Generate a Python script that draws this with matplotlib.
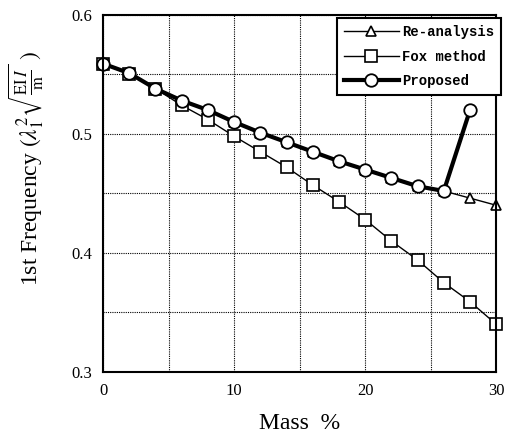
import matplotlib
matplotlib.use("Agg")
import matplotlib.pyplot as plt

plt.rcParams['mathtext.fontset'] = 'stix'

mass_re = [0, 2, 4, 6, 8, 10, 12, 14, 16, 18, 20, 22, 24, 26, 28, 30]
re_analysis = [0.559, 0.551, 0.538, 0.528, 0.520, 0.510, 0.501, 0.493, 0.485,
               0.477, 0.470, 0.463, 0.456, 0.452, 0.446, 0.440]
mass_fox = [0, 2, 4, 6, 8, 10, 12, 14, 16, 18, 20, 22, 24, 26, 28, 30]
fox = [0.559, 0.550, 0.538, 0.524, 0.512, 0.498, 0.485, 0.472, 0.457,
       0.443, 0.428, 0.410, 0.394, 0.375, 0.359, 0.340]
mass_prop = [0, 2, 4, 6, 8, 10, 12, 14, 16, 18, 20, 22, 24, 26, 28]
proposed = [0.559, 0.551, 0.538, 0.528, 0.520, 0.510, 0.501, 0.493, 0.485,
            0.477, 0.470, 0.463, 0.456, 0.452, 0.520]

x_ticks = [0, 10, 20, 30]
x_minor = [5, 15, 25]
y_ticks = [0.3, 0.4, 0.5, 0.6]
y_minor = [0.35, 0.45, 0.55]

fig = plt.figure(figsize=(5.10, 4.37), dpi=100)
ax = fig.add_axes([0.202, 0.149, 0.771, 0.817])

ax.plot(mass_re, re_analysis, color='black', lw=1.0, marker='^', ms=7,
        mfc='white', mec='black', mew=1.2, label='Re-analysis', zorder=3,
        clip_on=False)
ax.plot(mass_fox, fox, color='black', lw=1.0, marker='s', ms=8,
        mfc='white', mec='black', mew=1.2, label='Fox method', zorder=3,
        clip_on=False)
ax.plot(mass_prop, proposed, color='black', lw=3.0, marker='o', ms=9,
        mfc='white', mec='black', mew=1.3, label='Proposed', zorder=4,
        clip_on=False)

ax.set_xlim(0, 30)
ax.set_ylim(0.3, 0.6)
ax.set_xticks(x_ticks)
ax.set_xticks(x_minor, minor=True)
ax.set_yticks(y_ticks)
ax.set_yticks(y_minor, minor=True)
ax.set_xticklabels([str(v) for v in x_ticks], fontfamily='Liberation Serif')
ax.set_yticklabels([f'{v:.1f}' for v in y_ticks], fontfamily='Liberation Serif')
ax.grid(which='both', color='black', linestyle=(0, (1, 1)), lw=0.8)
ax.tick_params(which='both', length=0, pad=8, labelsize=12)
for s in ax.spines.values():
    s.set_linewidth(1.5)
    s.set_zorder(5)

ax.set_xlabel('Mass  %', fontfamily='Liberation Serif', fontsize=17, labelpad=10)
ax.set_ylabel(r'1st Frequency $(\lambda_1^2\sqrt{\frac{\mathrm{EI}\,I}{\mathrm{m}}}\ )$',
              fontfamily='Liberation Serif', fontsize=17)
ax.yaxis.set_label_coords(-0.145, 0.57)

leg = ax.legend(loc='upper right', bbox_to_anchor=(1.03, 1.01), frameon=True,
                fancybox=False, edgecolor='black', framealpha=1,
                prop={'family': 'Liberation Mono', 'weight': 'bold', 'size': 10},
                handlelength=4.0, borderpad=0.5, labelspacing=0.75,
                handletextpad=0.2)
leg.get_frame().set_linewidth(1.5)
leg.set_zorder(6)

fig.savefig('out.png', dpi=100)
